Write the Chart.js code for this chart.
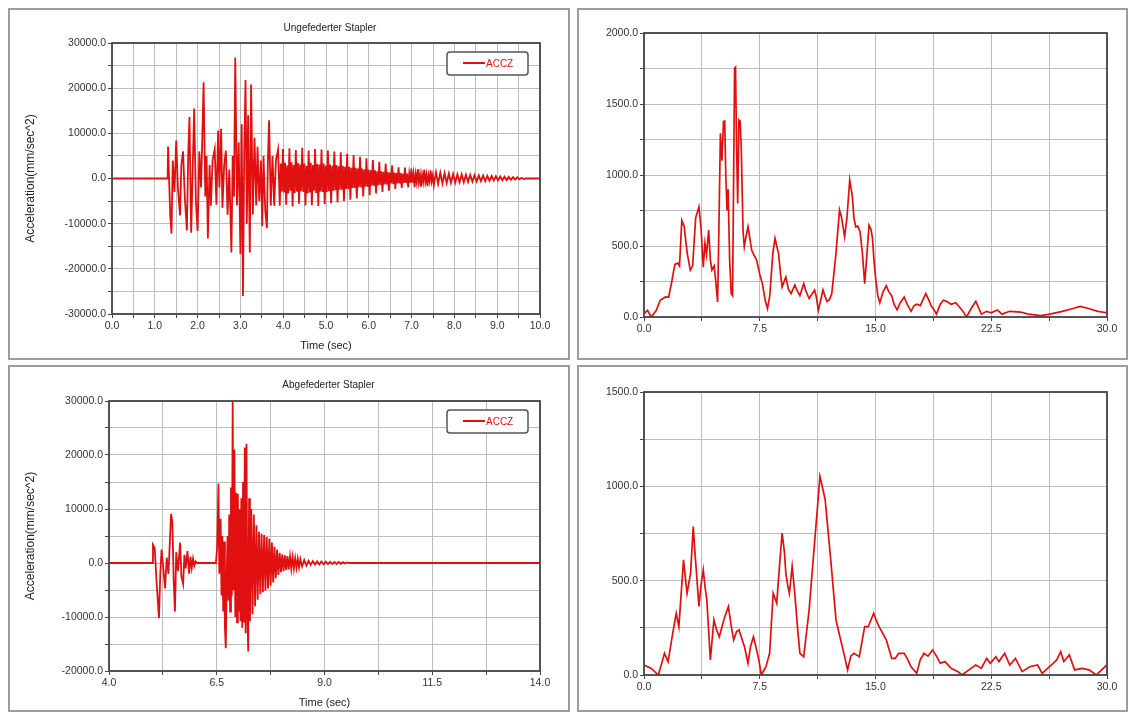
<!DOCTYPE html>
<html>
<head>
<meta charset="utf-8">
<script src="https://cdn.jsdelivr.net/npm/chart.js@4.4.1/dist/chart.umd.min.js"></script>
<style>
body { margin:0; background:#fff; width:1134px; height:715px; position:relative; overflow:hidden; }
.panel { position:absolute; border:2px solid #9c9c9c; background:#fff; box-sizing:border-box; }
canvas { position:absolute; left:0; top:0; }
</style>
</head>
<body>
<div class="panel" style="left:8px;top:8px;width:562px;height:352px"><canvas id="upperTime" width="558" height="348"></canvas></div>
<div class="panel" style="left:577px;top:8px;width:551px;height:352px"><canvas id="upperSpec" width="547" height="348"></canvas></div>
<div class="panel" style="left:8px;top:365px;width:562px;height:347px"><canvas id="lowerTime" width="558" height="343"></canvas></div>
<div class="panel" style="left:577px;top:365px;width:551px;height:347px"><canvas id="lowerSpec" width="547" height="343"></canvas></div>
<script>
// titles / labels
var titles = ["Ungefederter Stapler", "Abgefederter Stapler"];
var seriesLabel = "ACCZ";
var timeAxisTitle = "Time (sec)";
var accAxisTitle = "Acceleration(mm/sec^2)";

// ungefedert: time (s), acceleration (mm/sec^2)
var upperTrace = [
  [0,0],[1.30,0],
  [1.31,7100],[1.36,-8000],[1.39,-12200],[1.42,4000],[1.46,-3000],[1.50,8400],[1.54,-2000],[1.59,-8200],
  [1.62,3000],[1.66,6000],[1.70,-4000],[1.75,-11500],[1.78,5000],[1.81,13600],[1.85,-12000],[1.89,4000],
  [1.92,15500],[1.96,-5000],[2.00,-11600],[2.04,6000],[2.08,-2000],[2.11,9000],[2.14,21300],[2.18,-4000],
  [2.21,5000],[2.24,-13300],[2.28,3000],[2.31,-6000],[2.35,4000],[2.40,6500],[2.44,-5800],[2.48,10600],
  [2.51,-2000],[2.55,11000],[2.58,-6500],[2.62,3000],[2.66,6200],[2.70,-8000],[2.74,2000],[2.79,-16400],
  [2.82,5000],[2.85,-4000],[2.88,26800],[2.92,-6000],[2.96,8000],[3.00,-16700],[3.03,12000],[3.06,-26000],
  [3.09,6000],[3.12,21800],[3.15,-10000],[3.18,14000],[3.22,-16400],[3.25,20800],[3.29,-8000],[3.33,9000],
  [3.37,-6000],[3.40,7000],[3.44,-5000],[3.48,4000],[3.51,-10500],[3.54,5000],[3.58,-7000],[3.62,-11000],
  [3.64,3000],[3.67,12900],[3.71,-6000],[3.75,5000],[3.79,-6000],[3.83,4000],[3.88,6400],[3.92,-6000],
  [3.945,3300],[3.97,-2900],[3.995,6500],[4.02,-3100],[4.045,3500],[4.07,-5800],[4.095,2900],[4.12,-3300],
  [4.145,6700],[4.17,-2700],[4.195,3600],[4.22,-6200],[4.245,3000],[4.27,-3200],[4.295,6300],[4.32,-2900],
  [4.345,3400],[4.37,-5600],[4.395,3100],[4.42,-2800],[4.445,6800],[4.47,-3000],[4.495,3300],[4.52,-6000],
  [4.545,2800],[4.57,-3300],[4.595,6200],[4.62,-3100],[4.645,3500],[4.67,-5900],[4.695,3000],[4.72,-2700],
  [4.745,6500],[4.77,-3200],[4.795,3200],[4.82,-6100],[4.845,3100],[4.87,-2900],[4.895,6400],[4.92,-3000],
  [4.945,3300],[4.97,-5700],[4.995,2900],[5.02,-3000],[5.045,6200],[5.07,-2800],[5.095,3100],[5.12,-5500],
  [5.145,2800],[5.17,-2700],[5.195,6000],[5.22,-2600],[5.245,3000],[5.27,-5300],[5.295,2700],[5.32,-2500],
  [5.345,5800],[5.37,-2500],[5.395,2800],[5.42,-5000],[5.445,2600],[5.47,-2300],[5.495,5500],[5.52,-2300],
  [5.545,2600],[5.57,-4700],[5.595,2400],[5.62,-2100],[5.645,5200],[5.67,-2100],[5.695,2400],[5.72,-4400],
  [5.745,2200],[5.77,-1900],[5.795,4800],[5.82,-2000],[5.845,2200],[5.87,-4000],[5.895,2000],[5.92,-1800],
  [5.945,4500],[5.97,-1800],[5.995,2000],[6.02,-3700],[6.045,1800],[6.07,-1600],[6.095,4100],[6.12,-1600],
  [6.145,1800],[6.17,-3300],[6.195,1600],[6.22,-1500],[6.245,3700],[6.27,-1400],[6.295,1600],[6.32,-3000],
  [6.345,1500],[6.37,-1300],[6.395,3300],[6.42,-1300],[6.445,1400],[6.47,-2700],[6.495,1300],[6.52,-1100],
  [6.545,2900],[6.57,-1200],[6.595,1300],[6.62,-2300],[6.645,1200],[6.67,-1100],[6.695,2500],[6.72,-1100],
  [6.745,1200],[6.77,-2100],[6.795,1100],[6.82,-1000],[6.845,2400],[6.87,-1000],[6.895,1100],[6.92,-2000],
  [6.945,1000],[6.97,-900],[6.995,2200],[7.02,-900],[7.045,1000],[7.07,-1900],[7.095,900],[7.12,-800],
  [7.145,2100],[7.17,-800],[7.195,900],[7.22,-1800],[7.245,800],[7.27,-700],[7.295,2000],[7.32,-700],
  [7.345,800],[7.37,-1700],[7.395,700],[7.42,-600],[7.445,1800],[7.47,-600],[7.495,700],[7.52,-1500],
  [7.57,1400],[7.62,-1200],[7.67,1300],[7.72,-1100],[7.77,1200],[7.82,-1000],[7.87,1100],[7.92,-950],
  [7.97,1000],[8.02,-900],[8.07,950],[8.12,-850],[8.17,900],[8.22,-800],[8.27,850],[8.32,-750],
  [8.37,800],[8.42,-700],[8.47,750],[8.52,-650],[8.57,700],[8.62,-600],[8.67,650],[8.72,-550],
  [8.77,600],[8.82,-500],[8.87,550],[8.92,-450],[8.97,500],[9.02,-420],[9.07,450],[9.12,-380],
  [9.17,400],[9.22,-340],[9.27,350],[9.32,-300],[9.37,300],[9.42,-250],[9.47,250],[9.52,-200],
  [9.57,150],[9.62,-100],[9.67,0],[10,0]
];

// abgefedert: time (s), acceleration (mm/sec^2)
var lowerTrace = [
  [4,0],[5.0,0],[5.02,3400],[5.06,2800],[5.10,-3000],[5.16,-10200],[5.19,-2000],[5.22,2500],[5.26,-1000],
  [5.30,-4700],[5.34,1000],[5.38,-2000],[5.44,9100],[5.47,7500],[5.50,-3000],[5.53,-9000],[5.56,2000],
  [5.60,-1500],[5.65,3800],[5.68,-2500],[5.72,-3900],[5.75,1500],[5.78,-1000],[5.82,2200],[5.86,-2000],
  [5.89,1200],[5.92,-900],[5.95,800],[5.98,-500],[6.01,300],[6.04,0],[6.48,0],[6.51,3000],[6.54,14700],
  [6.56,-2000],[6.59,8200],[6.61,-6000],[6.63,5000],[6.65,-9000],[6.67,4000],[6.69,-12000],[6.71,-15800],
  [6.73,-3000],[6.75,5000],[6.77,-7000],[6.79,9000],[6.81,-9000],[6.83,14000],[6.85,-6000],[6.87,29800],
  [6.89,-5000],[6.91,21000],[6.93,-10000],[6.95,13000],[6.97,-11000],[6.99,12800],[7.01,-9000],[7.03,10000],
  [7.05,-10800],[7.07,12000],[7.09,-12000],[7.11,15000],[7.13,-11000],[7.15,21400],[7.17,-13000],[7.19,22100],
  [7.21,-9000],[7.23,-16400],[7.25,12000],[7.27,-10800],[7.30,10000],[7.33,-9500],[7.36,9000],[7.39,-8000],
  [7.42,7000],[7.45,-6800],[7.48,5800],[7.51,-5800],[7.54,5400],[7.57,-5400],[7.60,5200],[7.63,-5100],
  [7.66,4800],[7.69,-4700],[7.72,4500],[7.75,-4200],[7.78,3800],[7.81,-3600],[7.84,3000],[7.87,-2800],
  [7.90,2500],[7.93,-2200],[7.96,1900],[7.99,-1700],[8.02,1600],[8.05,-1500],[8.08,1400],[8.11,-1300],
  [8.14,1300],[8.17,-1200],[8.20,1200],[8.23,-1100],[8.26,1100],[8.29,-1000],[8.32,900],[8.35,-900],
  [8.38,800],[8.41,-800],[8.44,700],[8.48,-650],[8.53,550],[8.58,-500],[8.63,400],[8.68,-350],
  [8.73,350],[8.78,-300],[8.83,300],[8.88,-280],[8.93,280],[8.98,-250],[9.03,250],[9.08,-220],
  [9.13,220],[9.18,-200],[9.23,200],[9.28,-180],[9.33,180],[9.38,-150],[9.43,150],[9.48,-100],
  [9.53,100],[9.58,0],[14,0]
];

// ungefedert spectrum: frequency, amplitude
var upperSpectrum = [
  [0,24],[0.23,47],[0.47,0],[0.8,47],[1.05,118],[1.4,141],[1.6,140],[1.8,250],[2.0,370],[2.2,380],
  [2.3,360],[2.45,682],[2.6,640],[2.8,450],[3.0,330],[3.15,360],[3.35,700],[3.56,776],[3.7,620],[3.84,350],
  [3.95,520],[4.05,440],[4.19,612],[4.3,400],[4.4,330],[4.55,360],[4.65,250],[4.77,106],[4.85,600],[4.95,1294],
  [5.05,1100],[5.15,1376],[5.23,1380],[5.3,1000],[5.38,750],[5.45,900],[5.55,400],[5.65,165],[5.74,150],[5.8,900],
  [5.87,1753],[5.93,1760],[6.0,1200],[6.07,800],[6.15,1388],[6.23,1380],[6.3,1200],[6.36,900],[6.42,600],[6.5,494],
  [6.6,560],[6.74,635],[6.85,560],[6.98,470],[7.15,430],[7.3,400],[7.5,300],[7.67,235],[7.85,120],[8.0,59],
  [8.15,150],[8.35,450],[8.49,553],[8.6,500],[8.72,447],[8.85,300],[8.95,212],[9.19,282],[9.35,200],[9.53,165],
  [9.77,224],[9.95,180],[10.1,150],[10.35,235],[10.5,180],[10.7,130],[11.05,190],[11.15,150],[11.3,47],[11.45,120],
  [11.6,190],[11.75,140],[11.86,110],[12.0,120],[12.16,160],[12.3,300],[12.44,450],[12.67,753],[12.8,700],[13.0,565],
  [13.15,700],[13.33,965],[13.5,850],[13.6,700],[13.72,635],[13.85,640],[14.0,600],[14.15,450],[14.3,235],[14.45,450],
  [14.58,647],[14.7,620],[14.8,560],[14.9,400],[15.0,282],[15.15,150],[15.28,100],[15.5,180],[15.7,220],[15.85,180],
  [16.05,150],[16.2,90],[16.4,50],[16.6,100],[16.86,141],[17.05,90],[17.3,40],[17.5,80],[17.67,90],[17.9,80],
  [18.26,165],[18.45,120],[18.6,80],[18.8,50],[18.95,20],[19.2,90],[19.4,118],[19.6,110],[19.9,90],[20.2,100],
  [20.6,50],[20.9,0],[21.2,60],[21.5,110],[21.7,60],[21.86,20],[22.2,40],[22.5,30],[22.9,50],[23.2,20],
  [23.7,40],[24.4,35],[24.9,20],[25.7,10],[26.3,20],[27.1,40],[27.8,60],[28.26,75],[28.8,60],[29.4,40],[30,30]
];

// abgefedert spectrum: frequency, amplitude
var lowerSpectrum = [
  [0,53],[0.47,35],[0.93,0],[1.33,115],[1.56,70],[1.86,221],[2.09,327],[2.26,256],[2.56,610],[2.7,500],
  [2.79,433],[3.02,540],[3.19,787],[3.3,650],[3.37,575],[3.56,363],[3.7,480],[3.84,557],[3.95,470],[4.07,398],
  [4.3,80],[4.53,292],[4.7,240],[4.88,203],[5.2,300],[5.47,363],[5.65,260],[5.81,186],[6.0,230],[6.16,239],
  [6.35,190],[6.51,150],[6.74,62],[6.9,150],[7.09,203],[7.25,150],[7.44,80],[7.6,0],[7.9,44],[8.14,115],
  [8.37,433],[8.6,380],[8.8,600],[8.95,752],[9.1,650],[9.19,540],[9.3,480],[9.42,433],[9.6,575],[9.77,433],
  [9.95,250],[10.1,115],[10.35,97],[10.7,345],[11.05,699],[11.25,900],[11.4,1053],[11.55,1000],[11.74,929],[12.1,610],
  [12.44,292],[12.7,200],[12.9,133],[13.19,27],[13.4,100],[13.6,115],[13.95,97],[14.3,256],[14.53,256],[14.88,327],
  [15.05,290],[15.23,256],[15.7,186],[16.05,88],[16.28,88],[16.5,115],[16.86,115],[17.1,80],[17.3,44],[17.67,9],
  [17.9,80],[18.14,115],[18.4,100],[18.7,133],[18.95,100],[19.2,62],[19.5,71],[19.9,35],[20.35,18],[20.6,0],
  [21.05,27],[21.5,53],[21.86,35],[22.2,88],[22.44,62],[22.8,97],[23.0,71],[23.37,115],[23.7,53],[24.07,88],
  [24.5,18],[25.0,44],[25.5,53],[25.8,9],[26.4,53],[26.74,80],[27.0,124],[27.2,71],[27.56,106],[27.9,27],
  [28.37,35],[28.84,27],[29.3,0],[29.65,27],[30,53]
];

var lineRed = '#e01010';
var tickFont = { family: 'Liberation Sans', size: 10.5 };
var axisTitleFont = { family: 'Liberation Sans', size: 11 };

// box round the plot area
var frame = {
  id: 'frame',
  afterDraw: function(chart) {
    var a = chart.chartArea, ctx = chart.ctx;
    ctx.save();
    ctx.strokeStyle = '#454545';
    ctx.lineWidth = 1.8;
    ctx.strokeRect(a.left, a.top, a.right - a.left, a.bottom - a.top);
    ctx.restore();
  }
};

// chart title centred over the plot area
var plotTitle = {
  id: 'plotTitle',
  afterDraw: function(chart, args, opts) {
    if (!opts.text) return;
    var a = chart.chartArea, ctx = chart.ctx;
    ctx.save();
    ctx.fillStyle = '#222';
    ctx.font = '10px "Liberation Sans"';
    ctx.textAlign = 'center';
    ctx.textBaseline = 'middle';
    ctx.fillText(opts.text, (a.left + a.right) / 2 + 4, 18);
    ctx.restore();
  }
};

// small legend box inside the plot, top right
var legendBox = {
  id: 'legendBox',
  afterDraw: function(chart, args, opts) {
    if (!opts.show) return;
    var a = chart.chartArea, ctx = chart.ctx;
    var w = 81, h = 23;
    var x = a.right - 12 - w, y = a.top + 9;
    ctx.save();
    ctx.fillStyle = '#fff';
    ctx.strokeStyle = '#555';
    ctx.lineWidth = 1.5;
    ctx.beginPath();
    ctx.roundRect(x, y, w, h, 3);
    ctx.fill();
    ctx.stroke();
    ctx.strokeStyle = lineRed;
    ctx.lineWidth = 2;
    ctx.beginPath();
    ctx.moveTo(x + 16, y + 11);
    ctx.lineTo(x + 38, y + 11);
    ctx.stroke();
    ctx.fillStyle = lineRed;
    ctx.font = '10px "Liberation Sans"';
    ctx.textBaseline = 'middle';
    ctx.fillText(chart.data.datasets[0].label, x + 39, y + 12);
    ctx.restore();
  }
};

function isMultiple(v, base, step) {
  var k = (v - base) / step;
  return Math.abs(k - Math.round(k)) < 1e-6;
}

function makeChart(id, o) {
  new Chart(document.getElementById(id), {
    type: 'line',
    data: {
      datasets: [{
        label: seriesLabel,
        data: o.points.map(function(p) { return { x: p[0], y: p[1] }; }),
        borderColor: lineRed,
        borderWidth: o.lw,
        pointRadius: 0,
        tension: 0,
        fill: false
      }]
    },
    options: {
      responsive: false,
      animation: false,
      events: [],
      layout: { padding: { top: o.top, right: o.right, left: 0, bottom: 0 } },
      plugins: {
        legend: { display: false },
        tooltip: { enabled: false },
        plotTitle: { text: o.title || '' },
        legendBox: { show: !!o.legend }
      },
      scales: {
        x: {
          type: 'linear', min: o.xMin, max: o.xMax,
          ticks: {
            stepSize: o.xStep, autoSkip: false, maxRotation: 0, color: '#333', font: tickFont, padding: 2,
            callback: function(v) { return isMultiple(v, o.xMin, o.xLabelStep) ? v.toFixed(1) : ''; }
          },
          grid: { color: '#bdbdbd', tickColor: '#444', tickLength: 4 },
          border: { display: false },
          title: o.xTitle ? { display: true, text: o.xTitle, color: '#222', font: axisTitleFont, padding: { top: 0, bottom: o.xTitlePad } } : { display: false },
          afterFit: function(s) { s.height = o.xh; }
        },
        y: {
          type: 'linear', min: o.yMin, max: o.yMax,
          ticks: {
            stepSize: o.yStep, autoSkip: false, color: '#333', font: tickFont, padding: 2,
            callback: function(v) { return isMultiple(v, 0, o.yLabelStep) ? v.toFixed(1) : ''; }
          },
          grid: { color: '#bdbdbd', tickColor: '#444', tickLength: 4 },
          border: { display: false },
          title: o.yTitle ? { display: true, text: o.yTitle, color: '#222', font: { family: 'Liberation Sans', size: 12 }, padding: { top: 13, bottom: 0 } } : { display: false },
          afterFit: function(s) { s.width = o.yw; }
        }
      }
    },
    plugins: [frame, legendBox, plotTitle]
  });
}

makeChart('upperTime', {
  points: upperTrace, title: titles[0], legend: true, top: 33, right: 28, yw: 102, xh: 44, lw: 1.8,
  xMin: 0, xMax: 10, xStep: 0.5, xLabelStep: 1,
  yMin: -30000, yMax: 30000, yStep: 5000, yLabelStep: 10000,
  xTitle: timeAxisTitle, xTitlePad: 5, yTitle: accAxisTitle
});
makeChart('upperSpec', {
  points: upperSpectrum, top: 23, right: 19, yw: 65, xh: 41, lw: 1.7,
  xMin: 0, xMax: 30, xStep: 3.75, xLabelStep: 7.5,
  yMin: 0, yMax: 2000, yStep: 250, yLabelStep: 500
});
makeChart('lowerTime', {
  points: lowerTrace, title: titles[1], legend: true, top: 34, right: 28, yw: 99, xh: 39, lw: 1.8,
  xMin: 4, xMax: 14, xStep: 1.25, xLabelStep: 2.5,
  yMin: -20000, yMax: 30000, yStep: 5000, yLabelStep: 10000,
  xTitle: timeAxisTitle, xTitlePad: 0, yTitle: accAxisTitle
});
makeChart('lowerSpec', {
  points: lowerSpectrum, top: 25, right: 19, yw: 65, xh: 35, lw: 1.7,
  xMin: 0, xMax: 30, xStep: 3.75, xLabelStep: 7.5,
  yMin: 0, yMax: 1500, yStep: 250, yLabelStep: 500
});
</script>
</body>
</html>
